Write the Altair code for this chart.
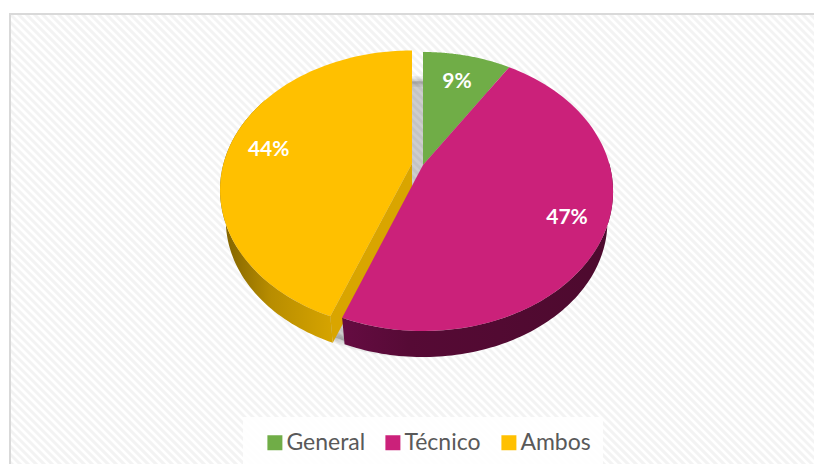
import numpy as np
import altair as alt

# --- data ---
categories = ["General", "Técnico", "Ambos"]
values = [9.0, 46.8, 44.2]
labels = ["9%", "47%", "44%"]
colors = ["#70AD47", "#CB217A", "#FFC000"]

# --- chart geometry (page pixels minus the 8px margin) ---
W, H = 806, 456
M = 8
CX, CY = 418 - M, 165 - M
A, B, K = 186.6, 134.5, 0.19     # perspective ellipse of the pie's top face
DEPTH, BOTTOM_SCALE = 31, 0.97   # extrusion of the 3D pie
EXPLODE = {"General": (5, 0, 1.0), "Técnico": (5, 0, 1.0), "Ambos": (-6, -1.5, 1.01)}
LABEL_R = {"General": 0.77, "Técnico": 0.79, "Ambos": 0.8}
LABEL_NUDGE = {"General": (0, 1), "Técnico": (0, 1), "Ambos": (0, 5)}


def proj(theta, r=1.0, off=(0, 0, 1.0), bottom=False):
    w = 1 + K * np.cos(theta)
    s = BOTTOM_SCALE if bottom else 1.0
    d = DEPTH if bottom else 0
    x = CX + off[0] + off[2] * s * r * A * np.sin(theta) / w
    y = CY + off[1] + d - s * r * B * np.cos(theta) / w
    return [float(x), float(y)]


def arc(t0, t1, off, bottom=False, n=80):
    return [proj(t, 1.0, off, bottom) for t in np.linspace(t0, t1, n)]


def feat(coords, name=None):
    geom = {"type": "Polygon", "coordinates": [coords + [coords[0]]]}
    return {"type": "Feature", "geometry": geom, "properties": {"name": name or ""}}


PROJ = dict(type="identity", scale=1, translate=[0, 0], reflectY=False)


def shape(features, **mark):
    return alt.Chart(alt.Data(values=features)).mark_geoshape(**mark).project(**PROJ)


cum = np.cumsum([0] + values) / sum(values) * 2 * np.pi
bounds = {c: (cum[i], cum[i + 1]) for i, c in enumerate(categories)}

# hatch background
period = 8
hatch_lines = [[[float(x), -4.0], [float(x + H + 8), float(H + 4)]] for x in range(-H - 8, W + 8, period)]
hatch = alt.Chart(alt.Data(values=[{"type": "Feature", "properties": {},
                                    "geometry": {"type": "MultiLineString", "coordinates": hatch_lines}}])
                  ).mark_geoshape(filled=False, stroke="#f3f3f3", strokeWidth=3).project(**PROJ)

mask_top = shape([feat([[0, 0], [W, 0], [W, 6], [0, 6]]), feat([[0, 0], [2, 0], [2, H], [0, H]])],
                 fill="white", stroke=None)
frame = alt.Chart(alt.Data(values=[{"type": "Feature", "properties": {},
                                    "geometry": {"type": "MultiLineString",
                                                 "coordinates": [[[2, H + 4], [2, 6], [W + 4, 6]]]}}])
                  ).mark_geoshape(filled=False, stroke="#d9d9d9", strokeWidth=2).project(**PROJ)
legend_box = shape([feat([[243 - M, 417 - M], [603 - M, 417 - M], [603 - M, 465 - M], [243 - M, 465 - M]])],
                   fill="white", fillOpacity=0.85, stroke=None)

# soft shadow under the pie
ts = np.linspace(0, 2 * np.pi, 240)
shadow_poly = [proj(t, 1.0, (0, 26 - DEPTH, 1.0), True) for t in ts[:-1]]
shadow_layers = [
    shape([feat(shadow_poly)], fill="black", fillOpacity=0.05, stroke="black", strokeOpacity=0.05,
          strokeWidth=sw, strokeJoin="round")
    for sw in (11, 8, 5, 2)
]

off_y = EXPLODE["Ambos"]
off_m = EXPLODE["Técnico"]

yt0, yt1 = bounds["Ambos"]
mt0, mt1 = bounds["Técnico"]


def grad(stops, x1=0, x2=1):
    return alt.LinearGradient(gradient="linear", x1=x1, x2=x2, y1=0, y2=0,
                              stops=[alt.GradientStop(color=c, offset=o) for o, c in stops])


yellow_wall = shape(
    [feat(arc(yt0, yt0 + 1.75, off_y) + arc(yt0, yt0 + 1.75, off_y, True)[::-1])],
    color=grad([(0, "#d6a400"), (0.55, "#b88d00"), (1, "#7d6000")], x1=1, x2=0), stroke=None)
yellow_inner = shape(
    [feat([proj(0, 0, off_y), proj(yt0, 1, off_y), proj(yt0, 1, off_y, True), proj(0, 0, off_y, True)])],
    fill="#d9a500", stroke=None)
magenta_wall = shape(
    [feat(arc(mt1, 1.55, off_m, n=100) + arc(mt1, 1.55, off_m, True, n=100)[::-1])],
    color=grad([(0, "#650c42"), (0.25, "#560a35"), (1, "#4d0a2e")]), stroke=None)

color_scale = alt.Scale(domain=categories, range=colors)
legend = alt.Legend(title=None, orient="none", legendX=255.4, legendY=431 - M,
                    direction="horizontal", symbolType="square", symbolSize=225,
                    symbolStrokeWidth=0, labelFont="Lato", labelFontSize=23, labelColor="#595959",
                    labelOffset=0, columnPadding=16, padding=0, columns=3, symbolOpacity=1)

faces = []
for c in ["Ambos", "General", "Técnico"]:
    t0, t1 = bounds[c]
    off = EXPLODE[c]
    faces.append(feat([proj(0, 0, off)] + arc(t0, t1, off), c))

face_layer = (alt.Chart(alt.Data(values=faces)).mark_geoshape(stroke=None)
              .encode(fill=alt.Color("properties.name:N", scale=color_scale, legend=legend))
              .project(**PROJ))

text_rows = []
for c, lab in zip(categories, labels):
    t0, t1 = bounds[c]
    x, y = proj((t0 + t1) / 2, LABEL_R[c], EXPLODE[c])
    text_rows.append({"label": lab, "x": x + LABEL_NUDGE[c][0], "y": y + LABEL_NUDGE[c][1]})

text_layer = (alt.Chart(alt.Data(values=text_rows))
              .mark_text(font="Lato", fontWeight="bold", fontSize=21, color="white", baseline="middle", align="center")
              .encode(x=alt.X("x:Q", scale=alt.Scale(domain=[0, W], range=[0, W]), axis=None),
                      y=alt.Y("y:Q", scale=alt.Scale(domain=[0, H], range=[0, H]), axis=None),
                      text="label:N"))

chart = alt.layer(
    hatch, mask_top, frame, legend_box, *shadow_layers,
    yellow_wall, yellow_inner, magenta_wall, face_layer, text_layer,
).resolve_scale(x="shared", y="shared").properties(
    width=W, height=H, padding=0, autosize=alt.AutoSizeParams(type="none"), background="white"
).configure_view(stroke=None)

chart.save("out.html", embed_options={"renderer": "svg", "actions": False})
